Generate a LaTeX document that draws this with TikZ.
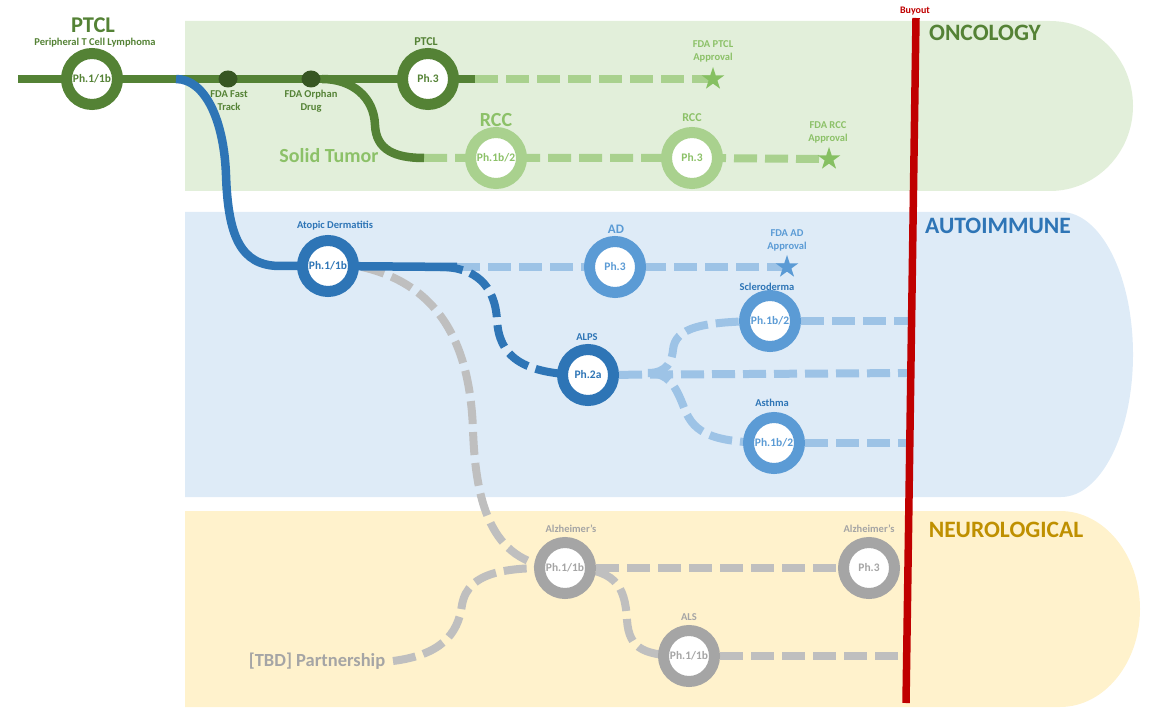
\documentclass[tikz,border=0pt]{standalone}
\usepackage{fontspec}
\setmainfont{Carlito}
\usetikzlibrary{shapes.geometric}
\definecolor{oncbg}{HTML}{E2EFDA}
\definecolor{autbg}{HTML}{DEEBF7}
\definecolor{neubg}{HTML}{FFF2CC}
\definecolor{dgreen}{HTML}{548235}
\definecolor{dotgreen}{HTML}{375623}
\definecolor{lgreen}{HTML}{A9D18E}
\definecolor{lgtext}{HTML}{8CC168}
\definecolor{lgstar}{HTML}{86C062}
\definecolor{bdark}{HTML}{2E75B6}
\definecolor{bmed}{HTML}{5B9BD5}
\definecolor{blight}{HTML}{9DC3E6}
\definecolor{ringgrey}{HTML}{A5A5A5}
\definecolor{linegrey}{HTML}{BFBFBF}
\definecolor{textgrey}{HTML}{A5A5A5}
\definecolor{buyred}{HTML}{C00000}
\definecolor{neutitle}{HTML}{BF9000}
\newcommand\myfs[2]{\fontsize{#1}{#2}\selectfont\bfseries}
\pgfdeclarelayer{bandlayer}
\pgfdeclarelayer{linelayer}
\pgfdeclarelayer{toplayer}
\pgfsetlayers{bandlayer,linelayer,main,toplayer}
\begin{document}
\begin{tikzpicture}[x=1pt,y=-1pt,
 ring/.style={circle,line width=11pt,fill=white,minimum size=51pt,inner sep=0pt,font=\myfs{11.5}{13}},
 gring/.style={ring,draw=dgreen,text=dgreen},
 lgring/.style={ring,draw=lgreen,text=lgtext},
 bring/.style={ring,draw=bdark,text=bdark},
 mbring/.style={ring,draw=bmed,text=bmed},
 gyring/.style={ring,draw=ringgrey,text=textgrey},
 dotnode/.style={ellipse,fill=dotgreen,minimum width=19pt,minimum height=17pt,inner sep=0pt},
 starnode/.style={star,star points=5,star point ratio=2.6,minimum size=24pt,inner sep=0pt,fill=#1},
 lbl/.style={align=center,inner sep=0pt,font=\myfs{10.5}{13}},
 solidln/.style={line width=8.5pt},
 dashln/.style={line width=8pt,dash pattern=on 23pt off 8pt},
 title/.style={inner sep=0pt,font=\myfs{23.5}{28}},
]
\useasboundingbox (0,0) rectangle (1175,727);

% bands
\begin{pgfonlayer}{bandlayer}
\fill[oncbg] (185,21) -- (1050,21) arc[start angle=-90,end angle=90,x radius=83,y radius=85] -- (185,191) -- cycle;
\fill[autbg] (185,212) -- (1061,212) arc[start angle=-90,end angle=90,x radius=72,y radius=142.5] -- (185,497) -- cycle;
\fill[neubg] (185,511) -- (1060,511) arc[start angle=-90,end angle=90,x radius=80,y radius=98] -- (185,707) -- cycle;
\end{pgfonlayer}

% titles
\node[title,text=dgreen] (tonc) at (985,33) {ONCOLOGY};
\node[title,text=bdark] (taut) at (998,226) {AUTOIMMUNE};
\node[title,text=neutitle] (tneu) at (1006,530) {NEUROLOGICAL};

% oncology nodes
\node[gring] (ptclA) at (92,79) {Ph.1/1b};
\node[dotnode] (fft) at (228,79) {};
\node[dotnode] (fod) at (311,79) {};
\node[gring] (ptclB) at (428,79) {Ph.3};
\node[starnode=lgstar] (starA) at (713,79) {};
\node[lgring] (rccA) at (496,158) {Ph.1b/2};
\node[lgring] (rccB) at (692,158) {Ph.3};
\node[starnode=lgstar] (starB) at (829,159) {};

\node[inner sep=0pt,text=dgreen,font=\myfs{22.5}{24}] (lptcl) at (93,25) {PTCL};
\node[inner sep=0pt,text=dgreen,font=\myfs{10.5}{12}] (lptclsub) at (95,43) {Peripheral T Cell Lymphoma};
\node[lbl,text=dgreen] (lfft) at (229,101) {FDA Fast\\Track};
\node[lbl,text=dgreen] (lfod) at (311,101) {FDA Orphan\\Drug};
\node[lbl,text=dgreen,font=\myfs{12}{14}] (lptclB) at (426,42) {PTCL};
\node[lbl,text=lgtext] (lstarA) at (713,51) {FDA PTCL\\Approval};
\node[lbl,text=lgtext,font=\myfs{20}{24}] (lrccA) at (496,120) {RCC};
\node[lbl,text=lgtext,font=\myfs{12}{14}] (lrccB) at (692,118) {RCC};
\node[lbl,text=lgtext] (lstarB) at (828,132) {FDA RCC\\Approval};
\node[lbl,text=lgtext,font=\myfs{20}{24}] (lsolid) at (329,156) {Solid Tumor};

% autoimmune nodes
\node[bring] (adA) at (328,266) {Ph.1/1b};
\node[mbring] (adB) at (615,267) {Ph.3};
\node[starnode=bmed] (starC) at (787,267) {};
\node[bring] (alps) at (588,375) {Ph.2a};
\node[mbring] (scl) at (770,321) {Ph.1b/2};
\node[mbring] (ast) at (774,443) {Ph.1b/2};

\node[lbl,text=bdark] (lad) at (335,226) {Atopic Dermatitis};
\node[lbl,text=bmed,font=\myfs{13}{15}] (ladB) at (616,229) {AD};
\node[lbl,text=bmed] (lstarC) at (787,240) {FDA AD\\Approval};
\node[lbl,text=bdark] (lalps) at (587,337) {ALPS};
\node[lbl,text=bdark] (lscl) at (767,287) {Scleroderma};
\node[lbl,text=bdark] (last) at (772,403) {Asthma};

% neurological nodes
\node[gyring] (alzA) at (565,568) {Ph.1/1b};
\node[gyring] (alzB) at (869,568) {Ph.3};
\node[gyring] (als) at (689,656) {Ph.1/1b};
\node[lbl,text=textgrey] (lalzA) at (571,529) {Alzheimer's};
\node[lbl,text=textgrey] (lalzB) at (869,529) {Alzheimer's};
\node[lbl,text=textgrey] (lals) at (689,617) {ALS};
\node[lbl,text=textgrey,font=\myfs{18.5}{22}] (ltbd) at (317,661) {[TBD] Partnership};

% free ends
\coordinate (gS) at (18,79);
\coordinate (gE) at (475,79);
\coordinate (brS) at (322,79);
\coordinate (brE) at (424,158);
\coordinate (bS) at (176,79);
\coordinate (bE) at (457,267);
\coordinate (dS) at (440,267);
\coordinate (gyS) at (362,267);
\coordinate (tbdE) at (393,661);
\coordinate (fork) at (648,373);
\coordinate (alpsE) at (910,373);
\coordinate (sclE) at (910,321);
\coordinate (astE) at (910,443);
\coordinate (alzE) at (905,568);
\coordinate (alsE) at (900,656);
\coordinate (rTop) at (916,18);
\coordinate (rBot) at (906,703);

\begin{pgfonlayer}{linelayer}
% green
\draw[dashln,lgreen] (gE) -- (starA.center);
\draw[dashln,lgreen] (brE) -- (rccA.center) -- (rccB.center) -- (starB.center);
\draw[solidln,dgreen] (gS) -- (ptclA.center) -- (fft.center) -- (fod.center) -- (ptclB.center) -- (gE);
\draw[solidln,dgreen] (brS) .. controls (352,79) and (374,97) .. (375,125) .. controls (376,150) and (395,158) .. (brE);
% grey
\draw[dashln,linegrey] (gyS) .. controls (440,285) and (470,345) .. (473,430) .. controls (476,520) and (500,567) .. (alzA.center);
\draw[dashln,linegrey] (tbdE) .. controls (440,655) and (458,635) .. (462,605) .. controls (468,570) and (510,567) .. (alzA.center);
\draw[dashln,linegrey] (alzA.center) -- (alzB.center) -- (alzE);
\draw[dashln,linegrey] (alzA.center) .. controls (615,568) and (625,585) .. (627,620) .. controls (629,650) and (645,656) .. (als.center);
\draw[dashln,linegrey] (als.center) -- (alsE);
% blue
\draw[dashln,blight] (bE) -- (adB.center) -- (starC.center);
\draw[dashln,blight] (alps.center) -- (alpsE);
\draw[dashln,blight] (fork) .. controls (668,373) and (672,360) .. (673,350) .. controls (675,328) and (700,321) .. (scl.center);
\draw[dashln,blight] (fork) .. controls (668,373) and (675,385) .. (683,405) .. controls (692,430) and (705,443) .. (ast.center);
\draw[dashln,blight] (scl.center) -- (sclE);
\draw[dashln,blight] (ast.center) -- (astE);
\draw[dashln,bdark] (dS) .. controls (475,267) and (495,285) .. (497,320) .. controls (499,355) and (520,375) .. (alps.center);
\draw[solidln,bdark] (bS) .. controls (205,79) and (224,120) .. (226,175) .. controls (228,235) and (240,266) .. (280,266) -- (adA.center) -- (bE);
\end{pgfonlayer}

\begin{pgfonlayer}{toplayer}
\draw[buyred,line width=7.5pt] (rTop) -- (rBot);
\node[lbl,text=buyred,font=\myfs{10}{12}] (lbuy) at (915,11) {Buyout};
\end{pgfonlayer}
\end{tikzpicture}
\end{document}
